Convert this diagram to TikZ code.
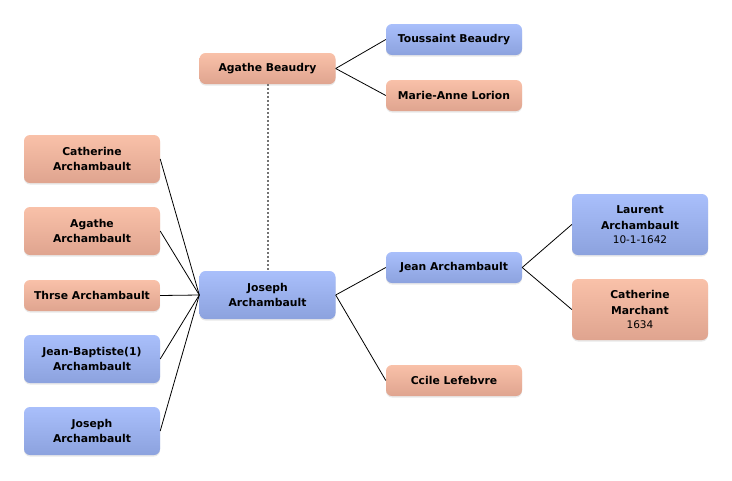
\documentclass[tikz,border=0pt]{standalone}
\usepackage{fontspec}
\setmainfont{DejaVu Sans}
\usetikzlibrary{shadows}
\definecolor{bluetop}{HTML}{A9BFFB}
\definecolor{bluebot}{HTML}{8CA2DE}
\definecolor{saltop}{HTML}{F9C1A9}
\definecolor{salbot}{HTML}{DFA48F}
\newcommand\mydatefont{\fontsize{10.5}{12}\selectfont\mdseries}
\tikzset{
  person/.style={rounded corners=6pt, minimum width=136pt, align=center,
    font=\fontsize{10.8}{15.5}\selectfont\bfseries, inner sep=0pt,
    drop shadow={opacity=0.18, shadow xshift=0pt, shadow yshift=-1.5pt}},
  male/.style={person, top color=bluetop, bottom color=bluebot},
  female/.style={person, top color=saltop, bottom color=salbot},
  h1/.style={minimum height=31pt},
  h2/.style={minimum height=48pt},
  h3/.style={minimum height=61pt},
  link/.style={draw=black, line width=0.8pt},
  dlink/.style={draw=black!55, line width=2pt, dash pattern=on 2pt off 2pt}
}
\begin{document}
\begin{tikzpicture}[x=1pt,y=-1pt]
\useasboundingbox (0,0) rectangle (732,480);
\node[female,h1] (ab) at (267.5,68.5) {Agathe Beaudry};
\node[male,h1] (tb) at (454,39.5) {Toussaint Beaudry};
\node[female,h1] (ml) at (454,95.5) {Marie-Anne Lorion};
\node[female,h2] (ca) at (92,159) {Catherine\\Archambault};
\node[female,h2] (aa) at (92,231) {Agathe\\Archambault};
\node[female,h1] (ta) at (92,295.5) {Thrse Archambault};
\node[male,h2] (jb) at (92,359) {Jean-Baptiste(1)\\Archambault};
\node[male,h2] (jl) at (92,431) {Joseph\\Archambault};
\node[male,h2] (jc) at (267.5,295) {Joseph\\Archambault};
\node[male,h1] (ja) at (454,267.5) {Jean Archambault};
\node[female,h1] (cl) at (454,380.5) {Ccile Lefebvre};
\node[male,h3] (la) at (640,224.5) {Laurent\\Archambault\\[-1.5pt]{\mydatefont 10-1-1642}};
\node[female,h3] (cm) at (640,309.5) {Catherine\\Marchant\\[-1.5pt]{\mydatefont 1634}};
\draw[dlink] (ab.south) -- (jc.north);
\draw[link] (ab.east) -- (tb.west);
\draw[link] (ab.east) -- (ml.west);
\foreach \n in {ca,aa,ta,jb,jl} \draw[link] (\n.east) -- (jc.west);
\draw[link] (jc.east) -- (ja.west);
\draw[link] (jc.east) -- (cl.west);
\draw[link] (ja.east) -- (la.west);
\draw[link] (ja.east) -- (cm.west);
\end{tikzpicture}
\end{document}
